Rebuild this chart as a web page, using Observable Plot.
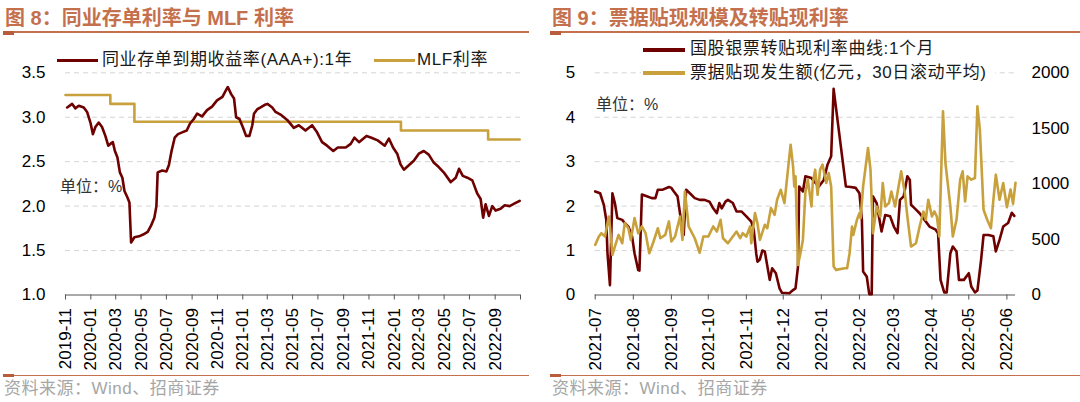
<!DOCTYPE html>
<html>
<head>
<meta charset="utf-8">
<script src="https://cdn.jsdelivr.net/npm/d3@7"></script>
<script src="https://cdn.jsdelivr.net/npm/@observablehq/plot@0.6"></script>
<style>
  html, body { margin: 0; padding: 0; background: #fff; }
  body { width: 1080px; height: 402px; position: relative; overflow: hidden;
         font-family: "Liberation Sans", Arial, "Noto Sans CJK SC", sans-serif; }
  .abs { position: absolute; white-space: nowrap; }
  .title { font-size: 20px; font-weight: bold; color: #c5704d; line-height: 24px; }
  .rule { position: absolute; background: #c5704d; }
  .leg { font-size: 17px; letter-spacing: 0.6px; color: #1a1a1a; line-height: 20px; }
  .sw { position: absolute; height: 3px; }
  .src { font-size: 17px; color: #a6a6a6; line-height: 20px; letter-spacing: 0.5px; }
  .unit { font-size: 16px; color: #333; line-height: 20px; }
  .chart { position: absolute; }
</style>
</head>
<body>
<script>
// ---------------- data: figure 8 ----------------
const ncdDates = ["2019-11-05","2019-11-17","2019-11-25","2019-12-03","2019-12-15","2019-12-23","2019-12-31",
"2020-01-06","2020-01-12","2020-01-20","2020-01-28","2020-02-05","2020-02-12","2020-02-17","2020-02-23","2020-02-28",
"2020-03-05","2020-03-11","2020-03-17","2020-03-22","2020-03-29","2020-04-03","2020-04-07","2020-04-15","2020-04-26",
"2020-05-06","2020-05-17","2020-05-25","2020-06-02","2020-06-07","2020-06-10","2020-06-21","2020-07-01","2020-07-07",
"2020-07-13","2020-07-21","2020-07-29","2020-08-08","2020-08-19","2020-08-27","2020-09-05","2020-09-13","2020-09-25",
"2020-10-07","2020-10-19","2020-10-31","2020-11-13","2020-11-21","2020-11-26","2020-12-04","2020-12-11","2020-12-16",
"2020-12-24","2021-01-01","2021-01-09","2021-01-17","2021-01-24","2021-01-28","2021-02-05","2021-02-13","2021-02-23",
"2021-03-02","2021-03-13","2021-03-21","2021-04-02","2021-04-18","2021-05-04","2021-05-16","2021-06-01","2021-06-17",
"2021-06-29","2021-07-11","2021-07-23","2021-08-07","2021-08-18","2021-09-06","2021-09-18","2021-09-27","2021-10-08",
"2021-10-26","2021-11-07","2021-11-22","2021-12-09","2021-12-19","2021-12-29","2022-01-08","2022-01-16","2022-01-24",
"2022-02-05","2022-02-17","2022-03-01","2022-03-13","2022-03-25","2022-04-06","2022-04-18","2022-04-30","2022-05-17",
"2022-05-29","2022-06-06","2022-06-15","2022-06-26","2022-07-08","2022-07-20","2022-07-28","2022-08-03","2022-08-09",
"2022-08-17","2022-08-25","2022-09-02","2022-09-14","2022-09-24","2022-10-06","2022-10-18","2022-10-30"];
const ncdValues = [3.11,3.15,3.10,3.13,3.11,3.06,2.94,
2.81,2.89,2.94,2.89,2.79,2.68,2.70,2.72,2.62,
2.55,2.38,2.32,2.17,2.10,2.04,1.59,1.65,1.66,
1.68,1.71,1.78,1.87,2.00,2.38,2.40,2.39,2.46,
2.61,2.77,2.81,2.83,2.85,2.93,2.98,3.04,3.01,
3.08,3.12,3.19,3.23,3.30,3.34,3.26,3.21,3.00,
2.98,2.89,2.79,2.79,2.91,3.04,3.09,3.11,3.14,
3.15,3.11,3.06,3.03,2.97,2.88,2.91,2.85,2.91,
2.83,2.72,2.68,2.62,2.66,2.66,2.70,2.77,2.72,
2.79,2.77,2.74,2.68,2.76,2.66,2.59,2.47,2.41,
2.46,2.51,2.59,2.62,2.58,2.49,2.44,2.38,2.27,
2.32,2.42,2.34,2.32,2.29,2.14,2.08,1.87,2.02,
1.89,2.00,1.95,1.97,2.01,2.00,2.03,2.06];
const mlfDates = ["2019-11-01","2020-02-17","2020-04-15","2022-01-17","2022-08-15","2022-10-30"];
const mlfValues = [3.25,3.15,2.95,2.85,2.75,2.75];
const leftTicks = ["2019-11-01","2020-01-01","2020-03-01","2020-05-01","2020-07-01","2020-09-01","2020-11-01",
"2021-01-01","2021-03-01","2021-05-01","2021-07-01","2021-09-01","2021-11-01","2022-01-01","2022-03-01",
"2022-05-01","2022-07-01","2022-09-01","2022-11-01"];
const leftTickLabels = ["2019-11","2020-01","2020-03","2020-05","2020-07","2020-09","2020-11","2021-01","2021-03",
"2021-05","2021-07","2021-09","2021-11","2022-01","2022-03","2022-05","2022-07","2022-09",""];
const leftYTicks = [1.0,1.5,2.0,2.5,3.0,3.5];

// ---------------- data: figure 9 ----------------
const rateDates = ["2021-07-01","2021-07-05","2021-07-08","2021-07-10","2021-07-11","2021-07-13","2021-07-15","2021-07-17",
"2021-07-19","2021-07-23","2021-07-25","2021-07-28","2021-07-31","2021-08-02","2021-08-05","2021-08-06","2021-08-08",
"2021-08-12","2021-08-16","2021-08-19","2021-08-21","2021-08-25","2021-08-30","2021-09-01","2021-09-03","2021-09-06",
"2021-09-08","2021-09-10","2021-09-11","2021-09-13","2021-09-16","2021-09-20","2021-09-24","2021-09-28","2021-10-02",
"2021-10-05","2021-10-08","2021-10-10","2021-10-12","2021-10-15","2021-10-17","2021-10-21","2021-10-24","2021-10-28",
"2021-11-01","2021-11-05","2021-11-07","2021-11-09","2021-11-10","2021-11-12","2021-11-14","2021-11-16","2021-11-20",
"2021-11-22","2021-11-25","2021-11-28","2021-11-30","2021-12-06","2021-12-09","2021-12-11","2021-12-13","2021-12-14",
"2021-12-17","2021-12-19","2021-12-24","2021-12-26","2021-12-30","2022-01-03","2022-01-06","2022-01-09","2022-01-11",
"2022-01-21","2022-01-25","2022-01-29","2022-02-01","2022-02-03","2022-02-04","2022-02-07","2022-02-09","2022-02-11",
"2022-02-12","2022-02-15","2022-02-19","2022-02-22","2022-02-26","2022-03-01","2022-03-04","2022-03-06","2022-03-09",
"2022-03-12","2022-03-14","2022-03-15","2022-03-18","2022-03-22","2022-03-26","2022-03-30","2022-04-04","2022-04-06",
"2022-04-08","2022-04-11","2022-04-13","2022-04-16","2022-04-18","2022-04-21","2022-04-23","2022-04-27","2022-05-01",
"2022-05-03","2022-05-06","2022-05-08","2022-05-11","2022-05-13","2022-05-17","2022-05-21","2022-05-23","2022-05-26",
"2022-05-29","2022-06-02","2022-06-05","2022-06-07"];
const rateValues = [2.33,2.29,2.03,1.69,0.94,0.22,2.29,2.07,
1.73,1.69,1.62,1.54,1.32,0.94,0.56,0.55,2.26,
2.22,2.18,2.18,2.37,2.37,2.43,2.41,2.33,2.22,
1.84,1.39,1.35,2.37,2.29,2.18,2.14,2.14,2.10,
1.95,1.84,2.07,1.95,2.10,2.14,2.07,1.88,1.88,
1.77,1.65,1.47,0.94,0.75,0.80,1.00,0.98,0.34,
0.60,0.49,0.15,0.05,0.04,0.11,0.15,0.64,2.44,
2.33,2.67,2.63,2.56,2.44,2.59,2.93,3.12,4.64,
2.44,2.43,2.41,2.29,1.69,0.53,0.41,0.02,0.02,
2.22,2.07,1.43,1.80,1.77,1.54,1.39,2.14,2.22,
2.67,2.59,2.03,1.95,1.84,1.69,1.54,1.47,1.39,
0.34,0.06,0.06,0.94,1.09,0.98,0.34,0.34,0.49,
0.19,0.06,0.10,0.79,1.35,1.35,1.32,0.98,1.24,
1.54,1.62,1.85,1.78];
const billDates = ["2021-07-01","2021-07-04","2021-07-06","2021-07-09","2021-07-12","2021-07-13","2021-07-15","2021-07-17",
"2021-07-20","2021-07-23","2021-07-25","2021-07-28","2021-07-30","2021-08-02","2021-08-05","2021-08-08","2021-08-11",
"2021-08-14","2021-08-17","2021-08-21","2021-08-23","2021-08-27","2021-08-30","2021-09-01","2021-09-04","2021-09-08",
"2021-09-10","2021-09-12","2021-09-15","2021-09-20","2021-09-24","2021-09-27","2021-10-01","2021-10-05","2021-10-08",
"2021-10-11","2021-10-13","2021-10-17","2021-10-21","2021-10-24","2021-10-27","2021-10-29","2021-11-01","2021-11-04",
"2021-11-05","2021-11-08","2021-11-10","2021-11-12","2021-11-16","2021-11-18","2021-11-21","2021-11-24","2021-11-26",
"2021-11-29","2021-12-02","2021-12-04","2021-12-07","2021-12-09","2021-12-10","2021-12-11","2021-12-13","2021-12-15",
"2021-12-17","2021-12-19","2021-12-21","2021-12-24","2021-12-25","2021-12-27","2021-12-29","2021-12-31","2022-01-02",
"2022-01-05","2022-01-07","2022-01-09","2022-01-11","2022-01-13","2022-01-20","2022-01-22","2022-01-24","2022-01-26",
"2022-01-27","2022-01-30","2022-02-01","2022-02-02","2022-02-04","2022-02-08","2022-02-10","2022-02-12","2022-02-15",
"2022-02-18","2022-02-20","2022-02-22","2022-02-25","2022-02-27","2022-03-02","2022-03-03","2022-03-07","2022-03-10",
"2022-03-12","2022-03-15","2022-03-19","2022-03-22","2022-03-25","2022-03-27","2022-03-29","2022-04-01","2022-04-03",
"2022-04-05","2022-04-07","2022-04-10","2022-04-12","2022-04-16","2022-04-18","2022-04-21","2022-04-24","2022-04-26",
"2022-04-28","2022-04-30","2022-05-03","2022-05-06","2022-05-08","2022-05-10","2022-05-13","2022-05-16","2022-05-19",
"2022-05-21","2022-05-23","2022-05-26","2022-05-29","2022-06-01","2022-06-04","2022-06-06","2022-06-08"];
const billValues = [451,526,556,526,707,617,361,436,
541,466,647,601,496,692,556,617,556,
376,466,601,511,541,662,481,526,707,
496,932,617,511,380,526,526,617,571,
677,511,466,526,571,511,556,526,617,
466,737,647,496,632,601,782,722,857,
947,827,1038,1353,1158,977,1068,271,376,
496,917,1038,797,1008,1128,902,1128,1173,
1008,1098,977,256,226,241,241,376,617,
541,677,737,692,977,1323,1128,556,797,
707,1008,797,827,932,797,857,1113,917,
707,436,466,617,752,677,857,707,752,
707,526,1654,1188,797,526,677,1038,1113,
842,1068,1038,1053,1699,1489,767,677,601,
857,1083,857,1008,790,950,820,1010];
const rightTicks = ["2021-07-01","2021-08-01","2021-09-01","2021-10-01","2021-11-01","2021-12-01","2022-01-01",
"2022-02-01","2022-03-01","2022-04-01","2022-05-01","2022-06-01"];
const rightTickLabels = ["2021-07","2021-08","2021-09","2021-10","2021-11","2021-12","2022-01","2022-02","2022-03",
"2022-04","2022-05","2022-06"];
const rightYTicks = [0,1,2,3,4,5];
const rightY2Labels = [0,500,1000,1500,2000];
const billPerRate = 400; // right axis units per left axis unit

// ---------------- texts ----------------
const title8 = "图 8：同业存单利率与 MLF 利率";
const title9 = "图 9：票据贴现规模及转贴现利率";
const legNcd = "同业存单到期收益率(AAA+):1年";
const legMlf = "MLF利率";
const legRate = "国股银票转贴现利率曲线:1个月";
const legBill = "票据贴现发生额(亿元，30日滚动平均)";
const unitText = "单位：%";
const sourceText = "资料来源：Wind、招商证券";

const RED = "#6e0000", GOLD = "#c8a03c";

function el(html) { document.body.insertAdjacentHTML("beforeend", html); }

const ncd = ncdDates.map((d, i) => ({date: new Date(d), value: ncdValues[i]}));
const mlf = mlfDates.map((d, i) => ({date: new Date(d), value: mlfValues[i]}));
const rate = rateDates.map((d, i) => ({date: new Date(d), value: rateValues[i]}));
const bill = billDates.map((d, i) => ({date: new Date(d), value: billValues[i]}));

const axisStyle = {fontFamily: '"Liberation Sans", Arial, sans-serif', fontSize: "17px", color: "#000", background: "transparent", overflow: "visible"};

// ---------- left chart ----------
const lMap = new Map(leftTicks.map((d, i) => [+new Date(d), leftTickLabels[i]]));
const left = Plot.plot({
  width: 540, height: 320,
  marginLeft: 65, marginRight: 20, marginTop: 12.3, marginBottom: 85.5,
  style: axisStyle,
  x: {type: "utc", domain: [new Date(leftTicks[0]), new Date(leftTicks[leftTicks.length - 1])], label: null},
  y: {domain: [1, 3.5], label: null},
  marks: [
    Plot.ruleY(leftYTicks.slice(1), {stroke: "#d4d4d4", strokeDasharray: "5,4", strokeWidth: 1}),
    Plot.axisY({ticks: leftYTicks, tickSize: 0, tickPadding: 20, tickFormat: d3.format(".1f"), label: null, fill: "#000"}),
    Plot.ruleY([1], {stroke: "#555", strokeWidth: 1}),
    Plot.axisX({ticks: leftTicks.map(d => new Date(d)), tickFormat: d => lMap.get(+d) ?? "", tickRotate: -90,
                tickSize: 5, tickPadding: 8, label: null, stroke: "#555", fill: "#000"}),
    Plot.line(mlf, {x: "date", y: "value", curve: "step-after", stroke: GOLD, strokeWidth: 2.6}),
    Plot.line(ncd, {x: "date", y: "value", stroke: RED, strokeWidth: 2.6, strokeLinejoin: "round"})
  ]
});
left.classList.add("chart");
left.style.left = "0px"; left.style.top = "60px";
document.body.appendChild(left);

// ---------- right chart ----------
const rMap = new Map(rightTicks.map((d, i) => [+new Date(d), rightTickLabels[i]]));
const right = Plot.plot({
  width: 540, height: 320,
  marginLeft: 54.7, marginRight: 65, marginTop: 12.3, marginBottom: 85.5,
  style: axisStyle,
  x: {type: "utc", domain: [new Date("2021-07-01"), new Date("2022-06-08")], label: null},
  y: {domain: [0, 5], label: null},
  marks: [
    Plot.ruleY(rightYTicks.slice(1), {stroke: "#d4d4d4", strokeDasharray: "5,4", strokeWidth: 1}),
    Plot.axisY({ticks: rightYTicks, tickSize: 0, tickPadding: 20, tickFormat: d => String(d), label: null, fill: "#000"}),
    Plot.axisY({anchor: "right", ticks: rightY2Labels.map(v => v / billPerRate), tickFormat: d => String(Math.round(d * billPerRate)),
                tickSize: 0, tickPadding: 16, label: null, fill: "#000"}),
    Plot.ruleY([0], {stroke: "#555", strokeWidth: 1}),
    Plot.axisX({ticks: rightTicks.map(d => new Date(d)), tickFormat: d => rMap.get(+d) ?? "", tickRotate: -90,
                tickSize: 5, tickPadding: 8, label: null, stroke: "#555", fill: "#000"}),
    Plot.line(rate, {x: "date", y: "value", stroke: RED, strokeWidth: 2.6, strokeLinejoin: "round"}),
    Plot.line(bill, {x: "date", y: d => d.value / billPerRate, stroke: GOLD, strokeWidth: 2.6, strokeLinejoin: "round"})
  ]
});
right.classList.add("chart");
right.style.left = "540px"; right.style.top = "60px";
document.body.appendChild(right);

// ---------- titles, rules, legends, notes ----------
el(`<div class="abs title" style="left:5px;top:6px">${title8}</div>`);
el(`<div class="abs title" style="left:552px;top:6px">${title9}</div>`);
el(`<div class="rule" style="left:3px;top:31px;width:526px;height:2px"></div>`);
el(`<div class="rule" style="left:3px;top:31px;width:11px;height:4px;background:#b85c3c"></div>`);
el(`<div class="rule" style="left:550px;top:31px;width:530px;height:2px"></div>`);
el(`<div class="rule" style="left:550px;top:31px;width:11px;height:4px;background:#b85c3c"></div>`);

el(`<div class="sw" style="left:57px;top:59px;width:41px;background:${RED}"></div>`);
el(`<div class="abs leg" style="left:102px;top:50px">${legNcd}</div>`);
el(`<div class="sw" style="left:374px;top:59px;width:41px;background:${GOLD}"></div>`);
el(`<div class="abs leg" style="left:417px;top:50px">${legMlf}</div>`);

el(`<div class="abs" style="left:641px;top:63px;width:354px;height:19px;background:#fff"></div>`);
el(`<div class="sw" style="left:643px;top:47.5px;width:42px;height:4px;background:${RED}"></div>`);
el(`<div class="abs leg" style="left:690px;top:39px">${legRate}</div>`);
el(`<div class="sw" style="left:643px;top:71px;width:42px;height:4px;background:${GOLD}"></div>`);
el(`<div class="abs leg" style="left:690px;top:62.5px">${legBill}</div>`);

el(`<div class="abs unit" style="left:60px;top:177px">${unitText}</div>`);
el(`<div class="abs unit" style="left:596px;top:95px">${unitText}</div>`);

el(`<div class="rule" style="left:3px;top:374.5px;width:526px;height:1.5px"></div>`);
el(`<div class="rule" style="left:3px;top:374px;width:11px;height:3px;background:#b85c3c"></div>`);
el(`<div class="rule" style="left:550px;top:374.5px;width:530px;height:1.5px"></div>`);
el(`<div class="rule" style="left:550px;top:374px;width:11px;height:3px;background:#b85c3c"></div>`);
el(`<div class="abs src" style="left:4px;top:378.5px">${sourceText}</div>`);
el(`<div class="abs src" style="left:552px;top:378.5px">${sourceText}</div>`);
</script>
</body>
</html>
